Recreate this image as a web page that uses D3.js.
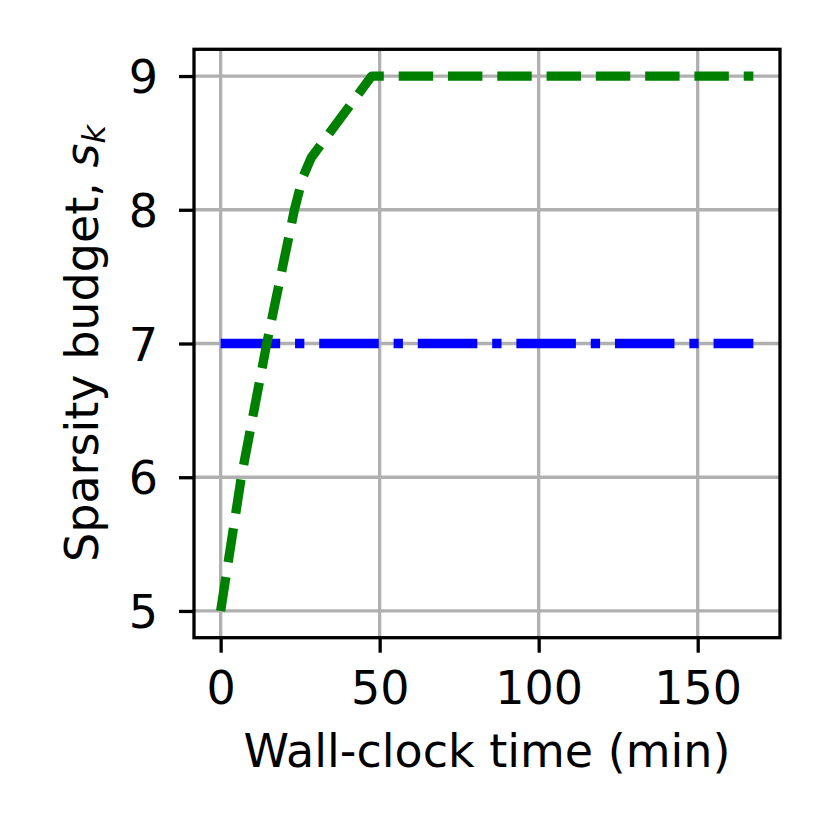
<!DOCTYPE html>
<html>
<head>
<meta charset="utf-8">
<style>
body{
  margin: 0;
  background-color: white;
}
svg text{
  font-family: "DejaVu Sans", sans-serif;
  fill: black;
}
.grid line{
  stroke: #b0b0b0;
  stroke-width: 3.3px;
}
.series{
  fill: none;
  stroke-width: 9.3px;
  stroke-linecap: butt;
  stroke-linejoin: round;
}
</style>
</head>
<body>
<script src="https://cdn.jsdelivr.net/npm/d3@7/dist/d3.min.js"></script>
<script>
  var WIDTH = 830;
  var HEIGHT = 830;
  var FONT = 46;

  // adaptive budget (green, dashed)
  var adaptiveTime = [0, 6.5, 14.5, 23.2, 25.8, 28.5, 47.5, 167.5];
  var adaptiveBudget = [5, 6, 7, 8, 8.24, 8.39, 9, 9];
  // fixed budget (blue, dash-dot)
  var fixedTime = [0, 167.5];
  var fixedBudget = [7, 7];

  var xTicks = [0, 50, 100, 150];
  var yTicks = [5, 6, 7, 8, 9];

  var pLeft = 194, pRight = 780, pTop = 49.3, pBottom = 637.7;

  var xMax = d3.max(adaptiveTime.concat(fixedTime));
  var xPad = 0.05 * xMax;
  var yPad = 0.05 * (9 - 5);

  var xScale = d3.scaleLinear()
    .domain([0 - xPad, xMax + xPad])
    .range([pLeft, pRight]);

  var yScale = d3.scaleLinear()
    .domain([5 - yPad, 9 + yPad])
    .range([pBottom, pTop]);

  var svg = d3.select("body").append("svg")
    .attr("width", WIDTH)
    .attr("height", HEIGHT);

  // grid
  var grid = svg.append("g").attr("class", "grid");
  grid.selectAll("line.gx")
    .data(xTicks)
    .enter().append("line")
      .attr("class", "gx")
      .attr("x1", (d) => xScale(d)).attr("x2", (d) => xScale(d))
      .attr("y1", pTop).attr("y2", pBottom);
  grid.selectAll("line.gy")
    .data(yTicks)
    .enter().append("line")
      .attr("class", "gy")
      .attr("x1", pLeft).attr("x2", pRight)
      .attr("y1", (d) => yScale(d)).attr("y2", (d) => yScale(d));

  var lw = 9.3;
  var line = d3.line()
    .x((d) => xScale(d[0]))
    .y((d) => yScale(d[1]));

  var plotArea = svg.append("g").attr("class", "plotArea");

  plotArea.append("path")
    .attr("class", "series")
    .attr("d", line(d3.zip(fixedTime, fixedBudget)))
    .attr("stroke", "blue")
    .attr("stroke-dasharray", [6.4*lw, 1.6*lw, 1*lw, 1.6*lw].join(" "));

  plotArea.append("path")
    .attr("class", "series")
    .attr("d", line(d3.zip(adaptiveTime, adaptiveBudget)))
    .attr("stroke", "green")
    .attr("stroke-dasharray", [3.7*lw, 1.6*lw].join(" "));

  // axes
  var xAxis = d3.axisBottom(xScale)
    .tickValues(xTicks)
    .tickFormat(d3.format("d"))
    .tickSize(15)
    .tickSizeOuter(0);
  var yAxis = d3.axisLeft(yScale)
    .tickValues(yTicks)
    .tickFormat(d3.format("d"))
    .tickSize(15)
    .tickSizeOuter(0);

  var gx = svg.append("g")
    .attr("transform", `translate(0,${pBottom})`)
    .call(xAxis);
  var gy = svg.append("g")
    .attr("transform", `translate(${pLeft},0)`)
    .call(yAxis);

  [gx, gy].forEach(function(g){
    g.select(".domain").remove();
    g.selectAll(".tick line").attr("stroke", "black").attr("stroke-width", 3.3);
    g.selectAll(".tick text")
      .attr("font-family", "DejaVu Sans")
      .style("font-size", FONT + "px");
  });
  gx.selectAll(".tick text").attr("dy", null).attr("y", 66.5);
  gy.selectAll(".tick text").attr("dy", null).attr("x", -36).attr("y", 16.5);

  // frame
  svg.append("rect")
    .attr("x", pLeft).attr("y", pTop)
    .attr("width", pRight - pLeft).attr("height", pBottom - pTop)
    .attr("fill", "none")
    .attr("stroke", "black")
    .attr("stroke-width", 3.3);

  // labels
  svg.append("text")
    .attr("x", (pLeft + pRight) / 2)
    .attr("y", 766.7)
    .attr("text-anchor", "middle")
    .style("font-size", FONT + "px")
    .text("Wall-clock time (min)");

  var ylab = svg.append("text")
    .attr("transform", "translate(98,562) rotate(-90)")
    .attr("text-anchor", "start")
    .style("font-size", FONT + "px");
  ylab.append("tspan").text("Sparsity budget, ");
  ylab.append("tspan").style("font-style", "italic").text("s");
  ylab.append("tspan")
    .style("font-style", "italic")
    .style("font-size", (FONT * 0.7) + "px")
    .attr("dy", 7)
    .text("k");
</script>
</body>
</html>
